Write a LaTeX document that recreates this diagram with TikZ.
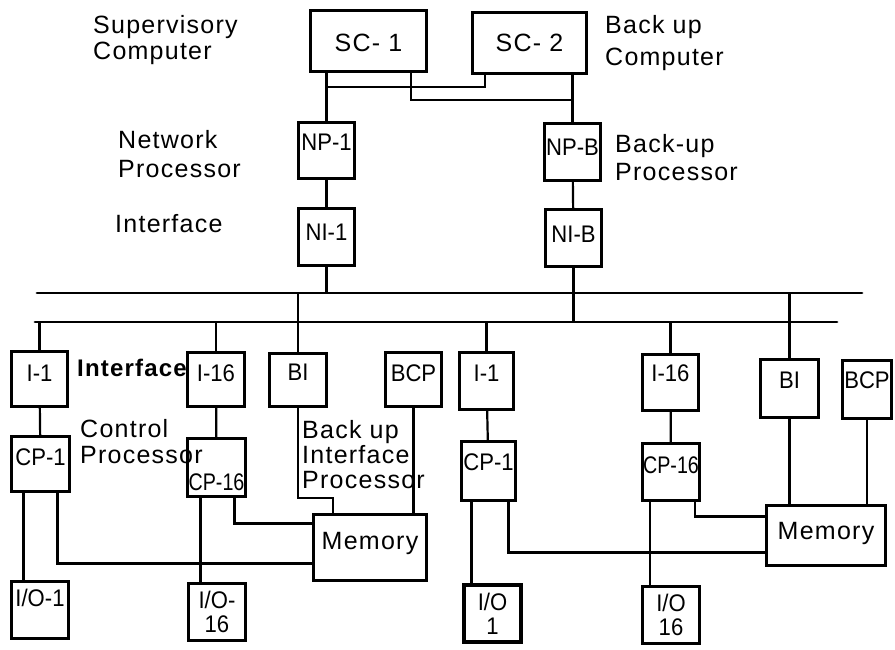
\documentclass[tikz,border=0pt]{standalone}
\usepackage{fontspec}
\setmainfont{Liberation Sans}
\newfontfamily\lblfamily[LetterSpace=5]{Liberation Sans}
\newfontfamily\boxfamily[FakeStretch=0.92]{Liberation Sans}
\newfontfamily\narrowfamily[FakeStretch=0.82]{Liberation Sans}
\newcommand\boxfont{\boxfamily\fontsize{24}{24}\selectfont}

\tikzset{
  unit/.style={draw, line width=3.2pt, inner xsep=1pt, inner ysep=0pt, font=\boxfont},
  blk/.style n args={3}{unit, minimum width=#1, text height=#2, text depth=#3},
  iobox/.style={unit, minimum width=57pt, minimum height=57pt, align=center},
  link/.style={line width=2.2pt},
  bus/.style={line width=2.8pt, line cap=round},
  note/.style={font=\lblfamily\fontsize{25}{#1}\selectfont, anchor=north west, align=left, inner sep=0pt},
}

\begin{document}
\begin{tikzpicture}[x=1pt, y=-1pt]
	\useasboundingbox (0,0) rectangle (895,649);
	\node[blk={116pt}{41pt}{20pt}, font=\lblfamily\fontsize{25}{25}\selectfont] (sc1) at (368.5,41) {SC- 1};
	\node[blk={114pt}{39pt}{22pt}, font=\lblfamily\fontsize{25}{25}\selectfont] (sc2) at (529.5,43) {SC- 2};
	\node[blk={56pt}{28pt}{28pt}] (np1) at (326.5,150.5) {NP-1};
	\node[blk={56pt}{32pt}{25pt}] (ni1) at (326.5,237) {NI-1};
	\node[blk={56pt}{32pt}{25pt}] (npb) at (572.5,152) {NP-B};
	\node[blk={56pt}{33pt}{24pt}] (nib) at (573.5,238) {NI-B};
	\node[note=26] (lsc1) at (93,15) {Supervisory\\Computer};
	\node[note=32] (lsc2) at (605,15) {Back up\\Computer};
	\node[note=29] (lnp1) at (118,130) {Network\\Processor};
	\node[note=28] (lnpb) at (615,134) {Back-up\\Processor};
	\node[note=26] (lni1) at (115,214) {Interface};
	% left cluster
	\node[blk={56pt}{30pt}{25pt}] (ia1) at (39.5,379) {I-1};
	\node[blk={57pt}{29pt}{25pt}] (ia16) at (216,379.5) {I-16};
	\node[blk={57pt}{27pt}{26pt}] (bia) at (298,380) {BI};
	\node[blk={56pt}{29pt}{25pt}] (bcpa) at (413.5,379.5) {BCP};
	\node[blk={58pt}{29pt}{26pt}] (cpa1) at (40.5,464) {CP-1};
	\node[blk={58pt}{52pt}{6pt}, font=\narrowfamily\fontsize{24}{24}\selectfont] (cpa16) at (216.5,467.5) {CP-16};
	\node[blk={113pt}{35pt}{31pt}, font=\lblfamily\fontsize{25}{26}\selectfont] (mema) at (370,547.5) {Memory};
	\node[blk={57pt}{25pt}{32pt}] (ioa1) at (40,610) {I/O-1};
	\node[iobox] (ioa16) at (217,612) {I/O-\\16};
	\node[note=26, font=\lblfamily\bfseries\fontsize{24}{26}\selectfont] (lia) at (77,359) {Interface};
	\node[note=26] (lcpa) at (80,419) {Control\\Processor};
	\node[note=25] (lbia) at (302,420) {Back up\\Interface\\Processor};
	% right cluster
	\node[blk={54pt}{29pt}{28pt}] (ib1) at (486.5,381) {I-1};
	\node[blk={56pt}{27pt}{29pt}] (ib16) at (670.5,382.5) {I-16};
	\node[blk={58pt}{29pt}{29pt}] (bib) at (789.5,388.5) {BI};
	\node[blk={49pt}{28pt}{30pt}] (bcpb) at (867,389.5) {BCP};
	\node[blk={54pt}{29pt}{30pt}] (cpb1) at (488.5,471) {CP-1};
	\node[blk={55pt}{30pt}{27pt}, font=\narrowfamily\fontsize{24}{24}\selectfont] (cpb16) at (671,472) {CP-16};
	\node[blk={119pt}{34pt}{26pt}, font=\lblfamily\fontsize{25}{26}\selectfont] (memb) at (826,535.5) {Memory};
	\node[iobox] (iob1) at (492.5,613.5) {I/O\\1};
	\node[iobox] (iob16) at (671,615) {I/O\\16};
	% buses and links
	\coordinate (tapA) at (485,87);
	\coordinate (tapB) at (411,100);
	\coordinate (busAw) at (37,293);
	\coordinate (busAe) at (862,293);
	\coordinate (busBw) at (35,322);
	\coordinate (busBe) at (837,322);
	\draw[bus] (busAw) -- (busAe);
	\draw[bus] (busBw) -- (busBe);
	\draw[link] (np1.north) -- (np1.north |- sc1.south);
	\draw[link] (tapA |- sc2.south) -- (tapA) -- (np1.north |- tapA);
	\draw[link] (tapB |- sc1.south) -- (tapB) -- (npb.north |- tapB);
	\draw[link] (npb.north) -- (npb.north |- sc2.south);
	\draw[link] (np1) -- (ni1);
	\draw[link] (npb) -- (nib);
	\draw[link] (ni1.south) -- (ni1.south |- busAw);
	\draw[link] (nib.south) -- (nib.south |- busBw);
	\draw[link] (bia.north) -- (bia.north |- busAw);
	\draw[link] (bib.north) -- (bib.north |- busAw);
	\draw[link] (ia1.north) -- (ia1.north |- busBw);
	\draw[link] (ia16.north) -- (ia16.north |- busBw);
	\draw[link] (ib1.north) -- (ib1.north |- busBw);
	\draw[link] (ib16.north) -- (ib16.north |- busBw);
	\draw[link] (ia1) -- (cpa1);
	\draw[link] (ia16) -- (cpa16);
	\draw[link] (ib1) -- (cpb1);
	\draw[link] (ib16) -- (cpb16);
	\draw[link] ([xshift=-17pt]cpa1.south) -- ([xshift=-17pt]cpa1.south |- ioa1.north);
	\draw[link] ([xshift=17pt]cpa1.south) |- ([yshift=-16pt]mema.west);
	\draw[link] ([xshift=-16pt]cpa16.south) -- ([xshift=-16pt]cpa16.south |- ioa16.north);
	\draw[link] ([xshift=18pt]cpa16.south) |- ([yshift=24pt]mema.west);
	\draw[link] (bia.south) -- ++(0,90) -| ([xshift=-37pt]mema.north);
	\draw[link] (bcpa.south) -- (bcpa.south |- mema.north);
	\draw[link] ([xshift=-17pt]cpb1.south) -- ([xshift=-17pt]cpb1.south |- iob1.north);
	\draw[link] ([xshift=20pt]cpb1.south) |- ([yshift=-17pt]memb.west);
	\draw[link] ([xshift=-21pt]cpb16.south) -- ([xshift=-21pt]cpb16.south |- iob16.north);
	\draw[link] ([xshift=24pt]cpb16.south) |- ([yshift=19pt]memb.west);
	\draw[link] (bib.south) -- (bib.south |- memb.north);
	\draw[link] (bcpb.south) -- (bcpb.south |- memb.north);
\end{tikzpicture}
\end{document}
